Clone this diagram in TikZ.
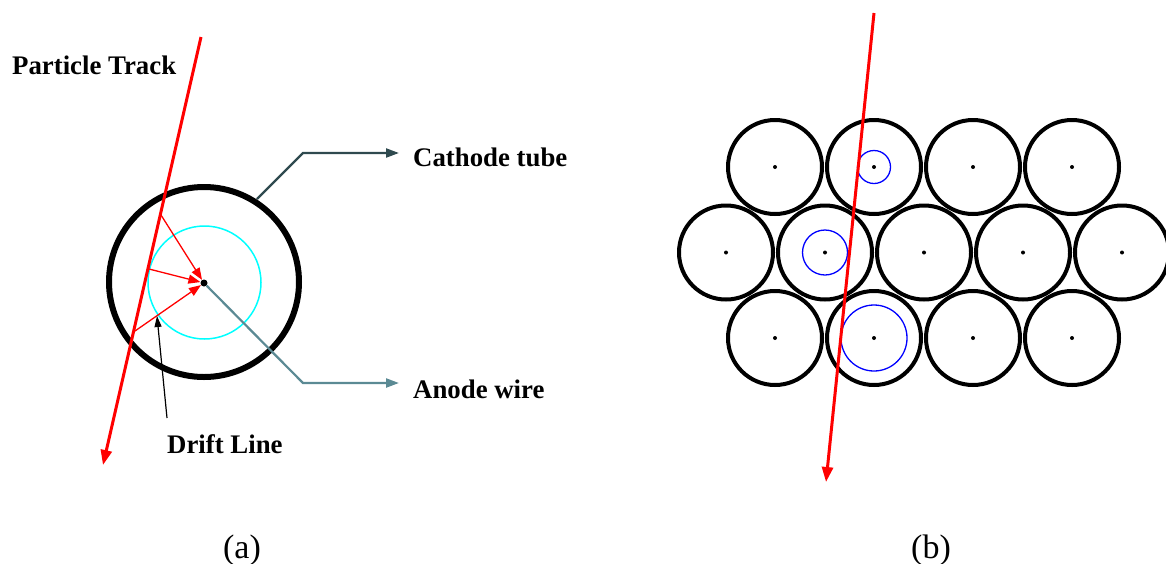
\documentclass[tikz,border=0pt]{standalone}
\usepackage{fontspec}
\setmainfont{Liberation Serif}
\usetikzlibrary{arrows.meta}
\definecolor{cathode}{HTML}{2F4A4F}
\definecolor{anode}{HTML}{5B8A94}
\definecolor{avalanche}{HTML}{00FFFF}
\definecolor{trackred}{HTML}{FF0000}
\definecolor{clusterblue}{HTML}{0000FF}
\begin{document}
\begin{tikzpicture}[x=1pt,y=-1pt,
  label/.style={font=\fontsize{26.8}{30}\selectfont\bfseries, inner sep=0pt, anchor=base west},
  caption/.style={font=\fontsize{34}{38}\selectfont, inner sep=0pt, anchor=base},
  tube/.style={draw=black, line width=4pt},
  wire/.style={fill=black, circle, inner sep=0pt, minimum size=4pt},
  track/.style={draw=trackred, line width=3pt, -{Triangle[length=15pt,width=11pt]}},
  drift/.style={draw=trackred, line width=1.3pt, -{Triangle[length=12pt,width=9pt]}},
  cluster/.style={draw=clusterblue, line width=1.3pt}]
\useasboundingbox (0,0) rectangle (1166,563);

% ---- (a) single drift tube ----
\draw[line width=6pt] (204,282) circle[radius=95];
\draw[avalanche, line width=1.5pt] (204.5,282.5) circle[radius=56.5];
\node[fill=black, circle, inner sep=0pt, minimum size=7pt] (anodeA) at (204,283) {};

\coordinate (trackAtop) at (201,37);
\coordinate (trackAbot) at (103,465);
\draw[track] (trackAtop) -- (trackAbot);

\coordinate (ion1) at (161,215);
\coordinate (ion2) at (149,269);
\coordinate (ion3) at (135,331);
\draw[drift] (ion1) -- (anodeA);
\draw[drift] (ion2) -- (anodeA);
\draw[drift] (ion3) -- (anodeA);

\node[label] (ptrack) at (12,74) {Particle Track};
\node[label] (cath) at (413,166) {Cathode tube};
\node[label] (anode) at (413,398) {Anode wire};
\node[label] (dline) at (167,453) {Drift Line};

\coordinate (cathEdge) at (257,199);
\coordinate (cathBend) at (303,153);
\coordinate (cathTip) at (399,153);
\draw[cathode, line width=2.2pt, -{Triangle[length=13pt,width=9pt]}]
  (cathEdge) -- (cathBend) -- (cathTip);

\coordinate (anodeBend) at (303,383);
\coordinate (anodeTip) at (399,383);
\draw[anode, line width=2.2pt, -{Triangle[length=13pt,width=9pt]}]
  (anodeA) -- (anodeBend) -- (anodeTip);

\coordinate (dlineFoot) at (167,418);
\coordinate (dlineTip) at (157,316);
\draw[black, line width=1.2pt, -{Triangle[length=11pt,width=7pt]}] (dlineFoot) -- (dlineTip);

\node[caption] (capA) at (242,558) {(a)};

% ---- (b) layer of drift tubes ----
\foreach \i [evaluate=\i as \xx using 775+99*\i] in {0,...,3} {
  \draw[tube] (\xx,167) circle[radius=47];
  \node[wire] (r1c\i) at (\xx,167) {};
  \draw[tube] (\xx,338) circle[radius=47];
  \node[wire] (r3c\i) at (\xx,338) {};
}
\foreach \i [evaluate=\i as \xx using 726+99*\i] in {0,...,4} {
  \draw[tube] (\xx,252.5) circle[radius=47];
  \node[wire] (r2c\i) at (\xx,252.5) {};
}
\draw[cluster] (r1c1.center) circle[radius=16.5];
\draw[cluster] (r2c1.center) circle[radius=22.5];
\draw[cluster] (r3c1.center) circle[radius=33];

\coordinate (trackBtop) at (874,13);
\coordinate (trackBbot) at (826,482);
\draw[track] (trackBtop) -- (trackBbot);

\node[caption] (capB) at (931,558) {(b)};
\end{tikzpicture}
\end{document}
